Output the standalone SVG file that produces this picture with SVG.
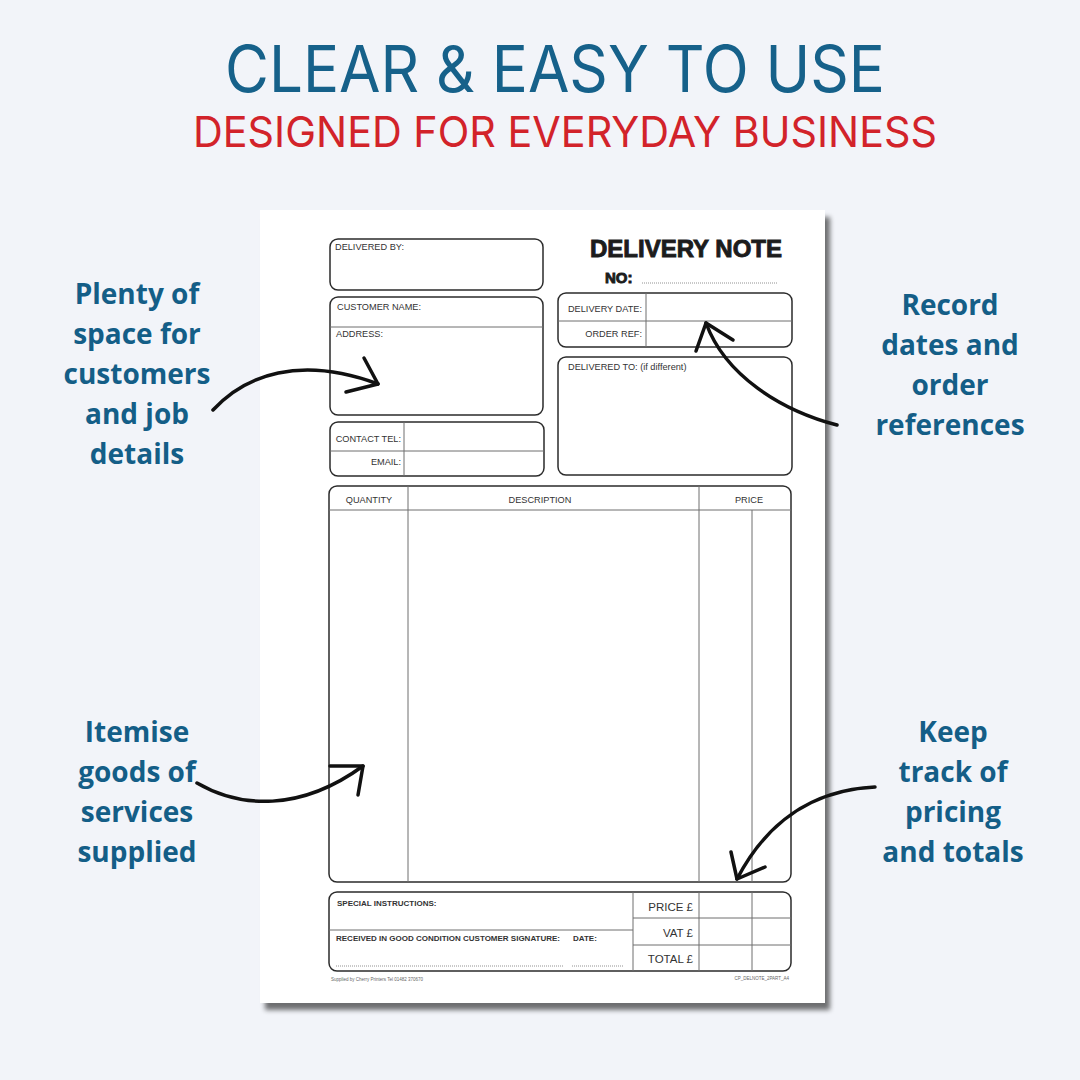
<svg xmlns="http://www.w3.org/2000/svg" width="1080" height="1080" viewBox="0 0 1080 1080">
<defs>
<filter id="shadow" x="-5%" y="-5%" width="115%" height="115%">
<feGaussianBlur in="SourceAlpha" stdDeviation="2.5"/>
<feOffset dx="5" dy="7" result="b"/>
<feComponentTransfer><feFuncA type="linear" slope="0.55"/></feComponentTransfer>
<feMerge><feMergeNode/><feMergeNode in="SourceGraphic"/></feMerge>
</filter>
</defs>
<style>
.title{font-family:"Inter","Open Sans","Liberation Sans",sans-serif;}
.side{font-family:"Open Sans","Liberation Sans",sans-serif;font-weight:700;font-size:28px;fill:#145e87;text-anchor:middle;}
.box{fill:none;stroke:#2b2b2b;stroke-width:1.5;}
.div{stroke:#6e6e6e;stroke-width:1;fill:none;}
.lbl{font-family:"Liberation Sans",Arial,sans-serif;font-size:9.2px;fill:#333;}
.blbl{font-family:"Liberation Sans",Arial,sans-serif;font-size:8px;font-weight:700;fill:#333;}
.tot{font-family:"Liberation Sans",Arial,sans-serif;font-size:11.5px;fill:#333;text-anchor:end;}
.dots{stroke:#777;stroke-width:0.8;stroke-dasharray:1 1;fill:none;}
.tiny{font-family:"Liberation Sans",Arial,sans-serif;font-size:4.5px;fill:#666;}
.heavy{font-family:"Liberation Sans",Arial,sans-serif;font-weight:700;fill:#1c1c1c;stroke:#1c1c1c;stroke-width:0.9;}
.arrow{fill:none;stroke:#111;stroke-width:3.5;stroke-linecap:round;stroke-linejoin:round;}
</style>
<rect width="1080" height="1080" fill="#f2f4f9"/>
<g id="title">
<text class="title" x="555" y="92" font-size="64" fill="#16618a" text-anchor="middle" textLength="660" lengthAdjust="spacingAndGlyphs">CLEAR &amp; EASY TO USE</text>
<text class="title" x="565" y="147" font-size="43" fill="#d2232a" text-anchor="middle" textLength="744" lengthAdjust="spacingAndGlyphs">DESIGNED FOR EVERYDAY BUSINESS</text>
</g>
<g id="paper">
<rect x="260" y="210" width="565" height="793" fill="#fff" filter="url(#shadow)"/>
</g>
<g id="form">
<g id="delivered-by">
<rect class="box" x="330" y="239" width="213" height="51" rx="8"/>
<text class="lbl" x="335" y="250">DELIVERED BY:</text>
</g>
<g id="heading">
<text class="heavy" x="590" y="257" font-size="23.5" textLength="192" lengthAdjust="spacingAndGlyphs">DELIVERY NOTE</text>
<text class="heavy" x="605" y="283" font-size="15" stroke-width="0.6">NO:</text>
<line class="dots" x1="642" y1="283" x2="778" y2="283"/>
</g>
<g id="customer">
<rect class="box" x="330" y="297" width="213" height="118" rx="8"/>
<line class="div" x1="330" y1="327" x2="543" y2="327"/>
<text class="lbl" x="337" y="310">CUSTOMER NAME:</text>
<text class="lbl" x="336" y="337">ADDRESS:</text>
</g>
<g id="contact">
<rect class="box" x="330" y="422" width="214" height="54" rx="8"/>
<line class="div" x1="330" y1="451" x2="544" y2="451"/>
<line class="div" x1="404" y1="422" x2="404" y2="476"/>
<text class="lbl" x="401" y="442" text-anchor="end">CONTACT TEL:</text>
<text class="lbl" x="401" y="465" text-anchor="end">EMAIL:</text>
</g>
<g id="dates">
<rect class="box" x="558" y="293" width="234" height="54" rx="8"/>
<line class="div" x1="558" y1="321" x2="792" y2="321"/>
<line class="div" x1="646" y1="293" x2="646" y2="347"/>
<text class="lbl" x="642" y="312" text-anchor="end">DELIVERY DATE:</text>
<text class="lbl" x="642" y="337" text-anchor="end">ORDER REF:</text>
</g>
<g id="delivered-to">
<rect class="box" x="558" y="357" width="234" height="118" rx="8"/>
<text class="lbl" x="568" y="370">DELIVERED TO: (if different)</text>
</g>
<g id="items">
<rect class="box" x="329" y="486" width="462" height="396" rx="8"/>
<line class="div" x1="329" y1="510" x2="791" y2="510"/>
<line class="div" x1="408" y1="486" x2="408" y2="882"/>
<line class="div" x1="699" y1="486" x2="699" y2="882"/>
<line class="div" x1="752" y1="510" x2="752" y2="882"/>
<text class="lbl" x="369" y="503" text-anchor="middle">QUANTITY</text>
<text class="lbl" x="540" y="503" text-anchor="middle">DESCRIPTION</text>
<text class="lbl" x="749" y="503" text-anchor="middle">PRICE</text>
</g>
<g id="totals">
<rect class="box" x="329" y="892" width="462" height="79" rx="8"/>
<line class="div" x1="633" y1="892" x2="633" y2="971"/>
<line class="div" x1="699" y1="892" x2="699" y2="971"/>
<line class="div" x1="752" y1="892" x2="752" y2="971"/>
<line class="div" x1="329" y1="930" x2="633" y2="930"/>
<line class="div" x1="633" y1="918" x2="791" y2="918"/>
<line class="div" x1="633" y1="945" x2="791" y2="945"/>
<text class="blbl" x="337" y="906">SPECIAL INSTRUCTIONS:</text>
<text class="blbl" x="336" y="941" textLength="224" lengthAdjust="spacingAndGlyphs">RECEIVED IN GOOD CONDITION CUSTOMER SIGNATURE:</text>
<text class="blbl" x="573" y="941">DATE:</text>
<line class="dots" x1="336" y1="966" x2="563" y2="966"/>
<line class="dots" x1="572" y1="966" x2="624" y2="966"/>
<text class="tot" x="693" y="911">PRICE  £</text>
<text class="tot" x="693" y="937">VAT  £</text>
<text class="tot" x="693" y="963">TOTAL  £</text>
</g>
<g id="footer">
<text class="tiny" x="331" y="981">Supplied by Cherry Printers Tel 01482 370670</text>
<text class="tiny" x="789" y="980" text-anchor="end">CP_DELNOTE_2PART_A4</text>
</g>
</g>
<g id="label-customers">
<text class="side" x="137" y="304">Plenty of</text>
<text class="side" x="137" y="344">space for</text>
<text class="side" x="137" y="384">customers</text>
<text class="side" x="137" y="424">and job</text>
<text class="side" x="137" y="464">details</text>
</g>
<g id="label-dates">
<text class="side" x="950" y="315">Record</text>
<text class="side" x="950" y="355">dates and</text>
<text class="side" x="950" y="395">order</text>
<text class="side" x="950" y="435">references</text>
</g>
<g id="label-items">
<text class="side" x="137" y="742">Itemise</text>
<text class="side" x="137" y="782">goods of</text>
<text class="side" x="137" y="822">services</text>
<text class="side" x="137" y="862">supplied</text>
</g>
<g id="label-pricing">
<text class="side" x="953" y="742">Keep</text>
<text class="side" x="953" y="782">track of</text>
<text class="side" x="953" y="822">pricing</text>
<text class="side" x="953" y="862">and totals</text>
</g>
<g id="connectors">
<path class="arrow" d="M213,410 C245,375 300,355 378,384"/>
<path class="arrow" d="M364,358 L378,384 L346,392"/>
<path class="arrow" d="M837,425 C780,410 725,375 706,323"/>
<path class="arrow" d="M696,351 L706,323 L733,340"/>
<path class="arrow" d="M197,783 C240,808 300,812 363,766"/>
<path class="arrow" d="M330,766 L363,766 L358,795"/>
<path class="arrow" d="M875,787 C810,790 765,825 737,879"/>
<path class="arrow" d="M731,852 L737,879 L765,867"/>
</g>
</svg>
